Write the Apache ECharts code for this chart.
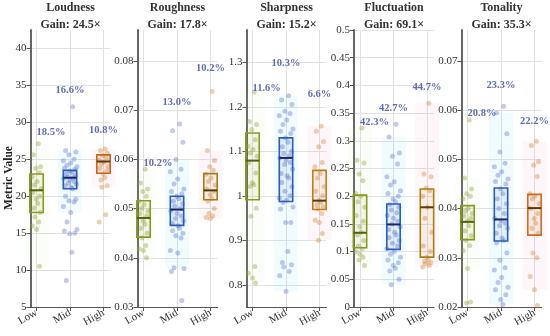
<!DOCTYPE html>
<html><head><meta charset="utf-8">
<script src="https://cdn.jsdelivr.net/npm/echarts@6/dist/echarts.min.js"></script>
<style>html,body{margin:0;padding:0;background:#fff}#c{width:550px;height:336px}</style>
</head><body><div id="c"></div>
<script>
// ---------- data ----------
const groups = ['Low', 'Mid', 'High'];
const metrics = ['Loudness', 'Roughness', 'Sharpness', 'Fluctuation', 'Tonality'];
const gains = ['24.5×', '17.8×', '15.2×', '69.1×', '35.3×'];

const yTicksLoudness = [5, 10, 15, 20, 25, 30, 35, 40];
const yTicksRoughness = [0.03, 0.04, 0.05, 0.06, 0.07, 0.08];
const yTicksSharpness = [0.8, 0.9, 1, 1.1, 1.2, 1.3];
const yTicksFluctuation = [0, 0.05, 0.1, 0.15, 0.2, 0.25, 0.3, 0.35, 0.4, 0.45, 0.5];
const yTicksTonality = [0.02, 0.03, 0.04, 0.05, 0.06, 0.07];

const yRangeLoudness = [5, 42.5];
const yRangeRoughness = [0.03, 0.0863];
const yRangeSharpness = [0.75, 1.3725];
const yRangeFluctuation = [0, 0.5];
const yRangeTonality = [0.02, 0.0763];

// box stats [Q1, median, Q3] for Low, Mid, High
const boxLoudness = [[17.8, 20.8, 23.0], [21.0, 22.5, 23.5], [23.1, 24.7, 25.6]];
const boxRoughness = [[0.0442, 0.0481, 0.0516], [0.0466, 0.0498, 0.0525], [0.0518, 0.0537, 0.0571]];
const boxSharpness = [[0.991, 1.079, 1.141], [0.987, 1.085, 1.130], [0.969, 0.989, 1.057]];
const boxFluctuation = [[0.107, 0.134, 0.202], [0.104, 0.149, 0.186], [0.090, 0.180, 0.213]];
const boxTonality = [[0.0337, 0.0373, 0.0406], [0.0334, 0.0378, 0.0442], [0.0346, 0.0401, 0.0429]];

// individual observations
const loudnessLow = [27.1, 25.6, 24.0, 23.8, 23.2, 22.6, 22.0, 21.5, 21.0, 20.5, 20.0, 19.6, 19.0, 18.4, 17.8, 17.2, 16.5, 16.0, 15.5, 10.5];
const loudnessMid = [32.1, 26.2, 26.0, 25.6, 25.0, 24.8, 24.5, 24.2, 24.0, 23.8, 23.6, 23.4, 23.2, 23.0, 22.8, 22.6, 22.5, 22.4, 22.2, 22.0, 21.8, 21.6, 21.4, 21.2, 21.0, 20.0, 19.6, 19.4, 19.2, 18.6, 17.8, 16.5, 15.5, 15.3, 15.0, 14.9, 12.4, 8.6];
const loudnessHigh = [26.4, 26.2, 25.8, 25.5, 25.2, 24.9, 24.6, 24.4, 24.0, 23.8, 23.4, 23.0, 22.5, 22.2, 21.4, 21.2, 17.5, 16.5];

const roughnessLow = [0.0580, 0.0552, 0.0540, 0.0535, 0.0525, 0.0515, 0.0508, 0.0500, 0.0495, 0.0490, 0.0485, 0.0475, 0.0468, 0.0460, 0.0450, 0.0440, 0.0425, 0.0418, 0.0415, 0.0400];
const roughnessMid = [0.0672, 0.0658, 0.0635, 0.0600, 0.0580, 0.0575, 0.0560, 0.0550, 0.0540, 0.0535, 0.0530, 0.0525, 0.0520, 0.0515, 0.0510, 0.0505, 0.0500, 0.0495, 0.0490, 0.0485, 0.0480, 0.0475, 0.0470, 0.0465, 0.0460, 0.0455, 0.0450, 0.0445, 0.0440, 0.0415, 0.0410, 0.0380, 0.0378, 0.0372, 0.0313];
const roughnessHigh = [0.0738, 0.0618, 0.0598, 0.0585, 0.0578, 0.0570, 0.0562, 0.0555, 0.0548, 0.0540, 0.0535, 0.0528, 0.0520, 0.0515, 0.0500, 0.0490, 0.0485, 0.0482, 0.0480];

const sharpnessLow = [1.233, 1.167, 1.160, 1.149, 1.126, 1.111, 1.104, 1.096, 1.089, 1.074, 1.051, 1.029, 1.025, 1.021, 0.972, 0.954, 0.841, 0.826, 0.815, 0.804];
const sharpnessMid = [1.225, 1.215, 1.205, 1.19, 1.185, 1.18, 1.17, 1.16, 1.15, 1.145, 1.14, 1.13, 1.12, 1.11, 1.10, 1.095, 1.09, 1.085, 1.08, 1.075, 1.07, 1.06, 1.05, 1.045, 1.04, 1.03, 1.02, 1.01, 1.0, 0.995, 0.99, 0.985, 0.975, 0.97, 0.94, 0.94, 0.875, 0.85, 0.845, 0.84, 0.83, 0.82, 0.785];
const sharpnessHigh = [1.157, 1.145, 1.122, 1.110, 1.075, 1.065, 1.050, 1.040, 1.020, 1.010, 1.000, 0.990, 0.985, 0.980, 0.975, 0.970, 0.960, 0.945, 0.940, 0.915, 0.900];

const fluctuationLow = [0.323, 0.265, 0.26, 0.24, 0.228, 0.205, 0.2, 0.19, 0.18, 0.165, 0.155, 0.145, 0.135, 0.13, 0.12, 0.11, 0.105, 0.1, 0.095, 0.09, 0.085, 0.075];
const fluctuationMid = [0.330, 0.307, 0.278, 0.272, 0.258, 0.235, 0.226, 0.22, 0.21, 0.205, 0.2, 0.195, 0.19, 0.185, 0.18, 0.175, 0.17, 0.165, 0.16, 0.155, 0.15, 0.145, 0.14, 0.135, 0.13, 0.125, 0.12, 0.115, 0.11, 0.105, 0.1, 0.095, 0.09, 0.085, 0.08, 0.075, 0.07, 0.065, 0.05, 0.04];
const fluctuationHigh = [0.368, 0.240, 0.235, 0.215, 0.21, 0.2, 0.18, 0.16, 0.135, 0.11, 0.1, 0.09, 0.085, 0.082, 0.08, 0.078, 0.075, 0.072];

const tonalityLow = [0.0580, 0.0462, 0.0440, 0.0430, 0.0425, 0.0420, 0.0400, 0.0395, 0.0390, 0.0385, 0.0380, 0.0375, 0.0365, 0.0355, 0.0345, 0.0335, 0.0325, 0.0315, 0.0278, 0.0210, 0.0208];
const tonalityMid = [0.0608, 0.0595, 0.0552, 0.0515, 0.0492, 0.0485, 0.0475, 0.0468, 0.0460, 0.0455, 0.0450, 0.0440, 0.0430, 0.0420, 0.0410, 0.0400, 0.0390, 0.0380, 0.0375, 0.0370, 0.0365, 0.0360, 0.0350, 0.0340, 0.0335, 0.0330, 0.0310, 0.0295, 0.0280, 0.0275, 0.0260, 0.0250, 0.0240, 0.0235, 0.0225, 0.0215, 0.0205];
const tonalityHigh = [0.0537, 0.0528, 0.0495, 0.0488, 0.0465, 0.0430, 0.0425, 0.0420, 0.0410, 0.0400, 0.0390, 0.0380, 0.0370, 0.0360, 0.0350, 0.0310, 0.0300, 0.0262, 0.0235, 0.0203];

// percentage annotations and the value at which they sit
const pctLoudness = ['18.5%', '16.6%', '10.8%'];
const pctRoughness = ['10.2%', '13.0%', '10.2%'];
const pctSharpness = ['11.6%', '10.3%', '6.6%'];
const pctFluctuation = ['42.3%', '42.7%', '44.7%'];
const pctTonality = ['20.8%', '23.3%', '22.2%'];
const pctAtLoudness = [28.6, 34.4, 28.9];
const pctAtRoughness = [0.0592, 0.0717, 0.0786];
const pctAtSharpness = [1.242, 1.298, 1.227];
const pctAtFluctuation = [0.334, 0.358, 0.396];
const pctAtTonality = [0.0594, 0.0651, 0.0577];

// ---------- styling ----------
const FONT = '"Liberation Serif", "DejaVu Serif", serif';
const panels = [
  {ticks: yTicksLoudness, range: yRangeLoudness, box: boxLoudness, pts: [loudnessLow, loudnessMid, loudnessHigh], pct: pctLoudness, pctAt: pctAtLoudness, high: '#c8641e'},
  {ticks: yTicksRoughness, range: yRangeRoughness, box: boxRoughness, pts: [roughnessLow, roughnessMid, roughnessHigh], pct: pctRoughness, pctAt: pctAtRoughness, high: '#a47c16'},
  {ticks: yTicksSharpness, range: yRangeSharpness, box: boxSharpness, pts: [sharpnessLow, sharpnessMid, sharpnessHigh], pct: pctSharpness, pctAt: pctAtSharpness, high: '#b8801a'},
  {ticks: yTicksFluctuation, range: yRangeFluctuation, box: boxFluctuation, pts: [fluctuationLow, fluctuationMid, fluctuationHigh], pct: pctFluctuation, pctAt: pctAtFluctuation, high: '#a88012'},
  {ticks: yTicksTonality, range: yRangeTonality, box: boxTonality, pts: [tonalityLow, tonalityMid, tonalityHigh], pct: pctTonality, pctAt: pctAtTonality, high: '#cc6c20'}
];
const gridLeft = [30.5, 137.5, 246.5, 354, 461.5];
const gridWidth = 80;
const boxColor = ['#8a9a1e', '#2b5cb8'];
const medianColor = ['#55600a', '#14286a', '#5a3a0a'];
const pointColor = ['rgba(145,165,60,0.5)', 'rgba(85,105,205,0.45)', 'rgba(215,135,60,0.5)'];
const shadeColor = ['rgba(190,225,130,0.06)', 'rgba(0,200,255,0.06)', 'rgba(255,100,150,0.06)'];
const BOX_HALF = 0.2, SHADE_HALF = 0.36;
const jitterPattern = [0.35, -0.6, 0.8, -0.15, 0.55, -0.9, 0.1, -0.4, 0.95, -0.75, 0.65, -0.05, 0.25, -0.5, 0.75, -0.3, 0.45, -0.85, 0.0, 0.6, -0.2, 0.9, -0.65, 0.15];
const jitterSpread = [0.15, 0.22, 0.15];

function whiskers(arr, q1, q3) {
  const iqr = q3 - q1, lo = q1 - 1.5 * iqr, hi = q3 + 1.5 * iqr;
  const inside = arr.filter(v => v >= lo && v <= hi);
  return [Math.min(...inside), Math.max(...inside)];
}

const option = {
  animation: false,
  backgroundColor: '#fff',
  title: [], grid: [], xAxis: [], yAxis: [], series: [],
  graphic: [{
    type: 'text', x: 9, y: 178, rotation: Math.PI / 2,
    style: {text: 'Metric Value', font: 'bold 11.5px ' + FONT, fill: '#222', align: 'center', verticalAlign: 'middle'}
  }]
};

panels.forEach((p, i) => {
  const cx = gridLeft[i] + gridWidth / 2;
  option.title.push({
    text: metrics[i], subtext: 'Gain: ' + gains[i],
    left: cx, top: 1, textAlign: 'center', itemGap: 5, padding: [1, 0, 0, 0],
    textStyle: {fontFamily: FONT, fontWeight: 'bold', fontSize: 12, color: '#333'},
    subtextStyle: {fontFamily: FONT, fontWeight: 'bold', fontSize: 12, color: '#333'}
  });
  option.grid.push({left: gridLeft[i], width: gridWidth, top: 30, bottom: 29});
  option.xAxis.push({
    gridIndex: i, type: 'value', min: 0.82, max: 3.21,
    axisLine: {show: true, onZero: false, lineStyle: {color: '#555', width: 1.2}},
    axisTick: {show: true, customValues: [1, 2, 3], length: 4, lineStyle: {color: '#555'}},
    axisLabel: {customValues: [1, 2, 3], formatter: v => groups[Math.round(v) - 1], rotate: 30, margin: 5,
      fontFamily: FONT, fontSize: 11, color: '#333'},
    splitLine: {show: true, lineStyle: {color: '#e2e2e2', width: 1}}
  });
  option.yAxis.push({
    gridIndex: i, type: 'value', min: p.range[0], max: p.range[1],
    axisLine: {show: true, onZero: false, lineStyle: {color: '#666', width: 2}},
    axisTick: {show: true, customValues: p.ticks, length: 4, lineStyle: {color: '#555'}},
    axisLabel: {customValues: p.ticks, margin: 4, fontFamily: FONT, fontSize: 11, color: '#333'},
    splitLine: {show: true, lineStyle: {color: '#e2e2e2', width: 1}}
  });
  const stats = p.box.map((b, g) => {
    const w = whiskers(p.pts[g], b[0], b[2]);
    return [g + 1, b[0], b[1], b[2], w[0], w[1]];
  });
  const colors = [boxColor[0], boxColor[1], p.high];
  option.series.push({
    type: 'custom', xAxisIndex: i, yAxisIndex: i, z: 1, silent: true,
    data: stats,
    renderItem: (params, api) => {
      const g = params.dataIndex, x = api.value(0);
      const a = api.coord([x - SHADE_HALF, api.value(5)]);
      const b = api.coord([x + SHADE_HALF, api.value(4)]);
      return {type: 'rect', shape: {x: a[0], y: a[1], width: b[0] - a[0], height: b[1] - a[1]},
        style: {fill: shadeColor[g]}};
    }
  });
  p.pts.forEach((arr, g) => {
    option.series.push({
      type: 'scatter', xAxisIndex: i, yAxisIndex: i, z: 2, symbolSize: 5, silent: true,
      itemStyle: {color: pointColor[g]},
      data: arr.map((v, k) => [g + 1 + jitterPattern[k % jitterPattern.length] * jitterSpread[g], v])
    });
  });
  option.series.push({
    type: 'custom', xAxisIndex: i, yAxisIndex: i, z: 3, silent: true,
    data: stats,
    renderItem: (params, api) => {
      const g = params.dataIndex, x = api.value(0);
      const a = api.coord([x - BOX_HALF, api.value(3)]);
      const b = api.coord([x + BOX_HALF, api.value(1)]);
      const m = api.coord([x, api.value(2)]);
      const c = colors[g];
      return {type: 'group', children: [
        {type: 'rect', shape: {x: a[0], y: a[1], width: b[0] - a[0], height: b[1] - a[1]},
          style: {fill: echarts.color.modifyAlpha(c, 0.08), stroke: c, lineWidth: 1.6}},
        {type: 'line', shape: {x1: a[0], y1: m[1], x2: b[0], y2: m[1]},
          style: {stroke: medianColor[g], lineWidth: 2}}
      ]};
    }
  });
  option.series.push({
    type: 'scatter', xAxisIndex: i, yAxisIndex: i, z: 4, symbolSize: 0, silent: true,
    data: p.pctAt.map((v, g) => ({
      value: [g + 1, v],
      label: {show: true, formatter: p.pct[g], position: g === 0 ? 'right' : 'inside', distance: 0,
        fontFamily: FONT, fontWeight: 'bold', fontSize: 10.5, color: '#3646a8'}
    }))
  });
});

const chart = echarts.init(document.getElementById('c'), null, {renderer: 'canvas'});
chart.setOption(option);
</script></body></html>
